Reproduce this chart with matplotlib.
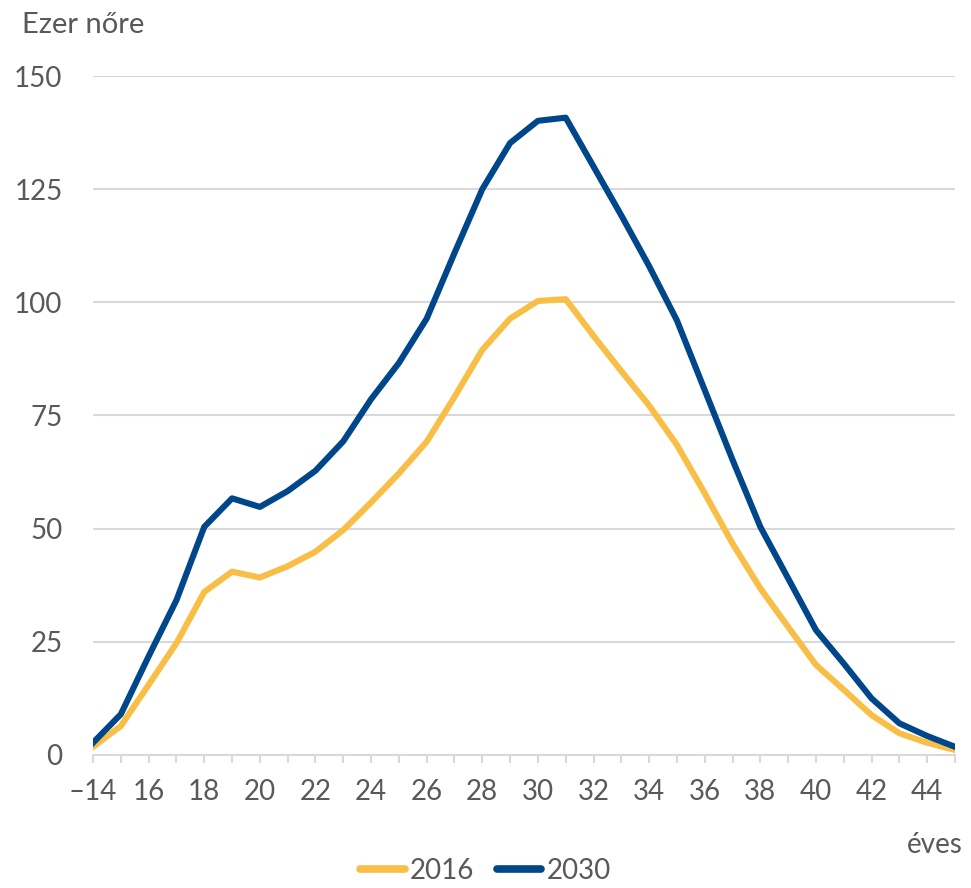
import numpy as np
import matplotlib
matplotlib.use('Agg')
from matplotlib import pyplot as plt

# data
ages = list(range(14, 46))
women_2016 = [1.8, 6.4, 15.5, 24.7, 36.0, 40.5, 39.2, 41.7, 44.9, 49.7, 55.8, 62.2,
              69.2, 79.1, 89.5, 96.4, 100.3, 100.7, 92.6, 84.8, 77.2, 68.5, 57.8, 46.7,
              36.8, 28.3, 19.9, 14.4, 8.8, 4.8, 2.7, 1.1]
women_2030 = [2.7, 9.0, 21.8, 34.2, 50.4, 56.7, 54.8, 58.3, 62.8, 69.3, 78.6, 86.6,
              96.4, 110.9, 125.0, 135.2, 140.1, 140.8, 130.0, 119.2, 108.0, 96.0, 80.6, 65.2,
              50.4, 39.0, 27.6, 20.2, 12.5, 7.0, 4.2, 1.8]
series_names = ['2016', '2030']
yticks = [0, 25, 50, 75, 100, 125, 150]
xtick_pos = list(range(14, 45, 2))
xtick_labels = ['\u201314'] + [str(a) for a in xtick_pos[1:]]

plt.rcParams['font.family'] = ['Lato', 'DejaVu Sans']
txt = '#595959'
grid = '#d9d9d9'
fs = 20

fig = plt.figure(figsize=(9.71, 8.88), dpi=100)
ax = fig.add_axes([0.0958, 0.1498, 0.8877, 0.7646])

ax.plot(ages, women_2016, color='#F9BE46', lw=4.4, label=series_names[0], solid_joinstyle='round')
ax.plot(ages, women_2030, color='#00468A', lw=4.4, label=series_names[1], solid_joinstyle='round')

ax.set_xlim(14, 45)
ax.set_ylim(0, 150)
ax.set_yticks(yticks)
ax.yaxis.grid(True, color=grid, lw=1.5)
ax.set_axisbelow(True)
for s in ['top', 'right', 'left']:
    ax.spines[s].set_visible(False)
ax.spines['bottom'].set_color(grid)
ax.spines['bottom'].set_linewidth(1.5)
ax.tick_params(axis='y', length=0, labelsize=fs, labelcolor=txt, pad=22)

ax.set_xticks(xtick_pos)
ax.set_xticklabels(xtick_labels)
ax.set_xticks(ages, minor=True)
ax.tick_params(axis='x', which='both', length=6, width=1.5, color=grid,
               labelsize=fs, labelcolor=txt, pad=11)

fig.text(22 / 971, 1 - 25 / 888, 'Ezer n\u0151re', fontsize=21, color=txt, va='center', ha='left')
fig.text(963 / 971, 1 - 845 / 888, '\u00e9ves', fontsize=fs, color=txt, va='center', ha='right')

leg = fig.legend(loc='center', bbox_to_anchor=(0.5, 1 - 871 / 888), ncol=2, frameon=False,
                 fontsize=fs, labelcolor=txt, handlelength=1.6, handletextpad=0.2,
                 columnspacing=0.8)
for h in leg.get_lines():
    h.set_linewidth(5.5)
    h.set_solid_capstyle('round')

fig.savefig('out.png', dpi=100)
